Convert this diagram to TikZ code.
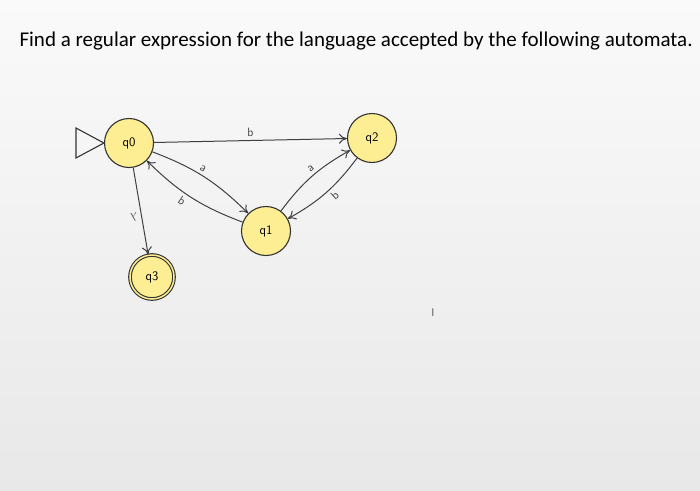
\documentclass[tikz,border=0pt]{standalone}
\usepackage{fontspec}
\setmainfont{Carlito}
\usetikzlibrary{arrows.meta}
\begin{document}
\begin{tikzpicture}[x=1pt,y=-1pt,
  st/.style={circle,draw=black!80,line width=1.1pt,fill=yellow!35!white!90!orange,minimum size=49pt,inner sep=0pt,font=\sffamily\fontsize{13}{13}\selectfont},
  edge/.style={draw=black!75,line width=1pt,-{To[length=8pt,width=10pt]}},
  lab/.style={font=\sffamily\fontsize{12}{12}\selectfont,text=black!75}]
\shade[top color=black!2,bottom color=black!9] (0,0) rectangle (700,490);
\node[font=\fontsize{21}{21}\selectfont,anchor=west] (title) at (16,41) {Find a regular expression for the language accepted by the following automata.};
\node[st] (q0) at (129,143) {q0};
\node[st] (q2) at (372,138) {q2};
\node[st] (q1) at (266,231) {q1};
\node[st,minimum size=44pt,double=yellow!35!white!90!orange,double distance=1.5pt] (q3) at (152,277) {q3};
\draw[black!80,line width=1.1pt] (q0.west) -- ++(-28,-15) -- ++(0,30) -- cycle;
\draw[edge] (q0) -- node[lab,above] {b} (q2);
\draw[edge] (q0) to[bend left=12] node[lab,above,sloped,pos=0.45] {a} (q1);
\draw[edge] (q1) to[bend left=12] node[lab,below,sloped,pos=0.55] {b} (q0);
\draw[edge] (q1) to[bend left=12] node[lab,above,sloped,pos=0.55] {a} (q2);
\draw[edge] (q2) to[bend left=12] node[lab,below,sloped,pos=0.45] {b} (q1);
\draw[edge] (q0) -- node[lab,right,sloped,rotate=-90,pos=0.55] {$\lambda$} (q3);
\node[font=\fontsize{12}{12}\selectfont,text=black!60] (cur) at (433,313) {I};
\end{tikzpicture}
\end{document}
